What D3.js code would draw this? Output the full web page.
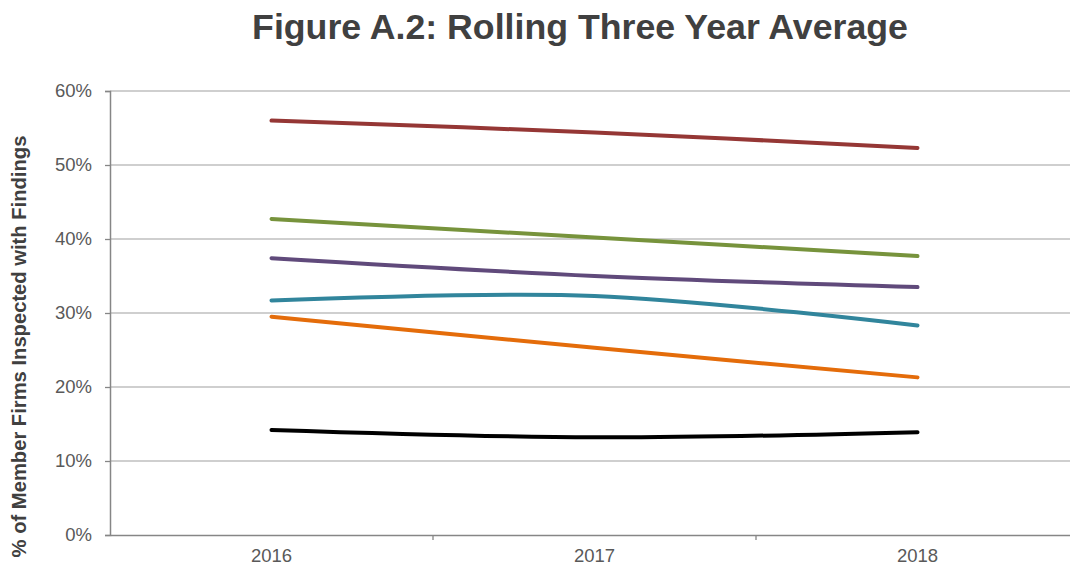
<!DOCTYPE html>
<html><head><meta charset="utf-8">
<script src="https://cdn.jsdelivr.net/npm/d3@7"></script>
<style>body{margin:0;background:#fff}svg{display:block}</style>
</head><body>
<svg id="c" width="1070" height="569"></svg>
<script>
const years = ["2016", "2017", "2018"];
const seriesNames = ["A", "B", "C", "D", "E", "F"];
const seriesColors = ["#953735", "#77933C", "#604A7B", "#31859C", "#E46C0A", "#000000"];
const redVals = [56.0, 54.4, 52.3];
const greenVals = [42.7, 40.2, 37.7];
const purpleVals = [37.4, 35.0, 33.5];
const tealVals = [31.7, 32.3, 28.3];
const orangeVals = [29.5, 25.3, 21.3];
const blackVals = [14.2, 13.2, 13.9];
const yTicks = [0, 10, 20, 30, 40, 50, 60];
const allVals = [redVals, greenVals, purpleVals, tealVals, orangeVals, blackVals];

(function () {
const svg = d3.select("#c");
const mLeft = 110, mRight = 1079, mTop = 91, mBottom = 535;
const font = "Liberation Sans, Arial, sans-serif";
const x = d3.scaleBand().domain(years).range([mLeft, mRight]);
const y = d3.scaleLinear().domain([0, 60]).range([mBottom, mTop]);

svg.append("text").attr("x", 580).attr("y", 39).attr("text-anchor", "middle")
  .attr("font-family", font).attr("font-weight", "bold")
  .attr("font-size", 35.7).attr("fill", "#404040").text("Figure A.2: Rolling Three Year Average");

svg.append("g").selectAll("line").data(yTicks.filter(d => d > 0)).join("line")
  .attr("x1", mLeft).attr("x2", mRight).attr("y1", d => y(d)).attr("y2", d => y(d))
  .attr("stroke", "#BFBFBF").attr("stroke-width", 1.3);

const ya = svg.append("g").attr("transform", `translate(${mLeft},0)`)
  .call(d3.axisLeft(y).tickValues(yTicks).tickFormat(d => d + "%").tickSize(5).tickPadding(13));
ya.select(".domain").attr("stroke", "#868686").attr("stroke-width", 1.5);
ya.selectAll(".tick line").attr("stroke", "#868686").attr("stroke-width", 1.3);
ya.selectAll("text").attr("font-family", font).attr("font-size", 18.5).attr("fill", "#595959");

const xa = svg.append("g").attr("transform", `translate(0,${mBottom})`)
  .call(d3.axisBottom(x).tickSize(0).tickPadding(14));
xa.select(".domain").attr("stroke", "#868686").attr("stroke-width", 1.5);
xa.selectAll("text").attr("font-family", font).attr("font-size", 18.5).attr("fill", "#595959");
svg.append("g").selectAll("line").data(years.slice(1)).join("line")
  .attr("x1", d => x(d)).attr("x2", d => x(d)).attr("y1", mBottom).attr("y2", mBottom + 5)
  .attr("stroke", "#868686").attr("stroke-width", 1.3);

svg.append("text").attr("transform", "translate(26,346.5) rotate(-90)")
  .attr("text-anchor", "middle").attr("font-family", font)
  .attr("font-weight", "bold").attr("font-size", 20.2).attr("fill", "#404040")
  .text("% of Member Firms Inspected with Findings");

const line = d3.line().x((d, i) => x(years[i]) + x.bandwidth() / 2).y(d => y(d)).curve(d3.curveCardinal.tension(0));
svg.append("g").selectAll("path").data(allVals).join("path")
  .attr("d", d => line(d)).attr("fill", "none")
  .attr("stroke", (d, i) => seriesColors[i]).attr("stroke-width", 4).attr("stroke-linecap", "round");
})();
</script>
</body></html>
